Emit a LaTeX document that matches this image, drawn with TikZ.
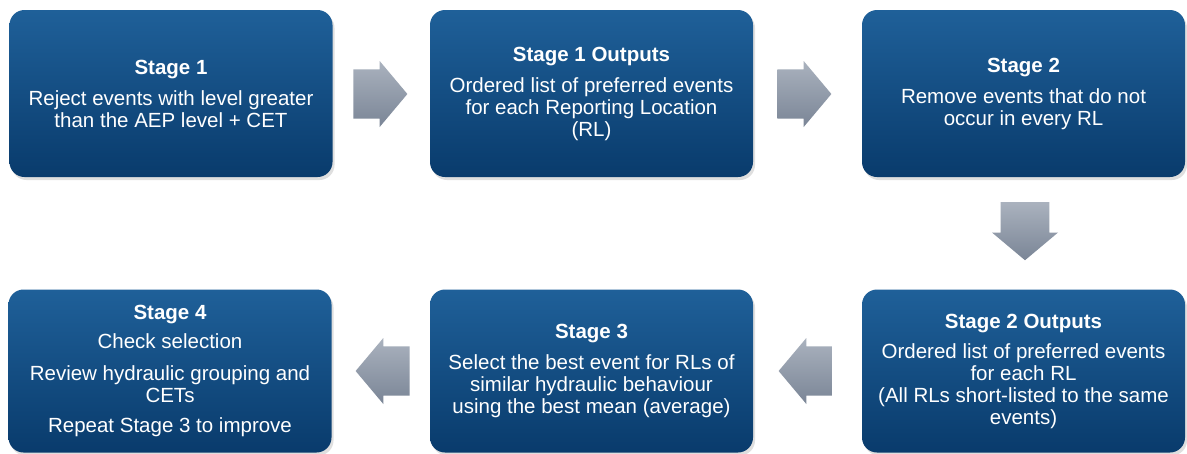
\documentclass[tikz,border=0pt]{standalone}
\usepackage{fontspec}
\setmainfont{Liberation Sans}
\usetikzlibrary{shapes.arrows,shadows}
\definecolor{stagetop}{RGB}{31,96,153}
\definecolor{stagebottom}{RGB}{9,59,108}
\definecolor{arrowtop}{RGB}{170,178,190}
\definecolor{arrowbottom}{RGB}{122,133,150}
\tikzset{
	stagebox/.style={rounded corners=15pt, top color=stagetop, bottom color=stagebottom,
		text=white, align=center, minimum width=323pt, minimum height=167pt, inner sep=0pt,
		font=\fontsize{20.5}{22}\selectfont,
		drop shadow={opacity=0.25, shadow xshift=2pt, shadow yshift=-3pt}},
	flowarrow/.style={single arrow, top color=arrowtop, bottom color=arrowbottom,
		minimum height=54pt, minimum width=66pt, inner xsep=0pt, inner ysep=21pt,
		single arrow tip angle=100},
	downarrow/.style={flowarrow, shape border rotate=270, inner xsep=20pt, inner ysep=0pt,
		minimum height=58pt},
}
\begin{document}
\begin{tikzpicture}[x=1pt,y=-1pt]
		\useasboundingbox[fill=white] (0,0) rectangle (1187,453);
		
		% top row
		\node[stagebox] (s1) at (171,93.5) {\textbf{Stage 1}\\[9pt]Reject events with level greater\\than the AEP level + CET};
		\node[stagebox] (s1out) at (591.5,93.5) {\textbf{Stage 1 Outputs}\\[9pt]Ordered list of preferred events\\for each Reporting Location\\(RL)};
		\node[stagebox] (s2) at (1023.5,93.5) {\textbf{Stage 2}\\[9pt]Remove events that do not\\occur in every RL};
		
		% bottom row
		\node[stagebox,minimum height=163pt] (s4) at (170,371) {\textbf{Stage 4}\\[7pt]Check selection\\[10pt]Review hydraulic grouping and\\CETs\\[8pt]Repeat Stage 3 to improve};
		\node[stagebox,minimum height=163pt] (s3) at (591.5,371) {\textbf{Stage 3}\\[9pt]Select the best event for RLs of\\similar hydraulic behaviour\\using the best mean (average)};
		\node[stagebox,minimum height=163pt] (s2out) at (1023.5,371) {\textbf{Stage 2 Outputs}\\[8pt]Ordered list of preferred events\\for each RL\\(All RLs short-listed to the same\\events)};
		
		% arrows
		\node[flowarrow] (a1) at (370,94) {};
		\node[flowarrow] (a2) at (794,94) {};
		\node[downarrow] (a3) at (1025,221) {};
		\node[flowarrow,shape border rotate=180] (a4) at (816,371) {};
		\node[flowarrow,shape border rotate=180] (a5) at (393,371) {};
	\end{tikzpicture}
\end{document}
